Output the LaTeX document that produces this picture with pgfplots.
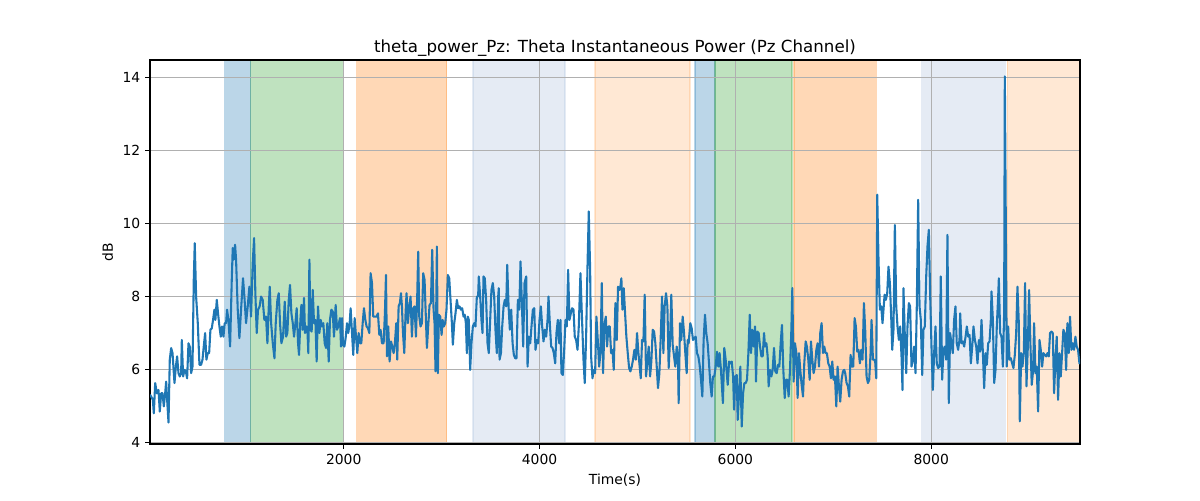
\documentclass[border=0pt]{standalone}
\usepackage{pgfplots}
\pgfplotsset{compat=1.18}
\usepackage{fontspec}
\setmainfont{DejaVu Sans}
\definecolor{tabblue}{HTML}{1F77B4}
\definecolor{taborange}{HTML}{FF7F0E}
\definecolor{tabgreen}{HTML}{2CA02C}
\definecolor{steel}{HTML}{A8BEDC}
\definecolor{gridgray}{HTML}{B0B0B0}
\begin{document}
\begin{tikzpicture}
\begin{axis}[
 set layers,
 at={(0,0)}, anchor=south west,
 scale only axis, width=669.6pt, height=276.48pt,
 xmin=22, xmax=9520, ymin=3.95, ymax=14.47,
 xtick={2000,4000,6000,8000}, ytick={4,6,8,10,12,14},
 grid=major, major grid style={color=gridgray, line width=0.8pt},
 tick align=outside, major tick length=3.5pt,
 tick pos=left,
 /pgf/number format/assume math mode=true,
 /pgf/number format/1000 sep={},
 ticklabel style={font=\fontsize{10}{12}\selectfont},
 xlabel={Time(s)}, ylabel={dB},
 label style={font=\fontsize{10}{12}\selectfont},
 ylabel style={xshift=0pt},
 title={theta\_power\_Pz: Theta Instantaneous Power (Pz Channel)},
 title style={font=\fontsize{12}{14}\selectfont, yshift=-7pt},
 axis line style={line width=0.8pt},
 every tick/.style={black, line width=0.8pt},
]
\addplot[on layer=axis background, draw=tabblue, fill=tabblue, fill opacity=0.3, draw opacity=0.3, line width=1pt] coordinates {(784,3.95)(1049,3.95)(1049,14.47)(784,14.47)} -- cycle;
\addplot[on layer=axis background, draw=tabgreen, fill=tabgreen, fill opacity=0.3, draw opacity=0.3, line width=1pt] coordinates {(1049,3.95)(1999,3.95)(1999,14.47)(1049,14.47)} -- cycle;
\addplot[on layer=axis background, draw=taborange, fill=taborange, fill opacity=0.3, draw opacity=0.3, line width=1pt] coordinates {(2133,3.95)(3053,3.95)(3053,14.47)(2133,14.47)} -- cycle;
\addplot[on layer=axis background, draw=steel, fill=steel, fill opacity=0.3, draw opacity=0.3, line width=1pt] coordinates {(3319,3.95)(4259,3.95)(4259,14.47)(3319,14.47)} -- cycle;
\addplot[on layer=axis background, draw=taborange, fill=taborange, fill opacity=0.18, draw opacity=0.18, line width=1pt] coordinates {(4566,3.95)(5537,3.95)(5537,14.47)(4566,14.47)} -- cycle;
\addplot[on layer=axis background, draw=tabblue, fill=tabblue, fill opacity=0.3, draw opacity=0.3, line width=1pt] coordinates {(5588,3.95)(5792,3.95)(5792,14.47)(5588,14.47)} -- cycle;
\addplot[on layer=axis background, draw=tabgreen, fill=tabgreen, fill opacity=0.3, draw opacity=0.3, line width=1pt] coordinates {(5792,3.95)(6579,3.95)(6579,14.47)(5792,14.47)} -- cycle;
\addplot[on layer=axis background, draw=taborange, fill=taborange, fill opacity=0.3, draw opacity=0.3, line width=1pt] coordinates {(6600,3.95)(7439,3.95)(7439,14.47)(6600,14.47)} -- cycle;
\addplot[on layer=axis background, draw=steel, fill=steel, fill opacity=0.3, draw opacity=0.3, line width=1pt] coordinates {(7901,3.95)(8757,3.95)(8757,14.47)(7901,14.47)} -- cycle;
\addplot[on layer=axis background, draw=taborange, fill=taborange, fill opacity=0.18, draw opacity=0.18, line width=1pt] coordinates {(8777,3.95)(9520,3.95)(9520,14.47)(8777,14.47)} -- cycle;
\addplot[tabblue, line width=1.5pt, line join=round] table {
x y
22 5.30
34 5.25
51 5.16
61 4.79
75 5.62
92 5.34
109 5.43
122 4.84
136 5.34
150 5.34
163 4.98
177 5.34
187 5.66
197 5.16
211 4.54
224 6.26
238 6.58
252 6.44
272 5.62
286 6.07
299 6.35
313 5.89
326 5.80
340 5.89
347 6.80
360 5.80
374 5.98
388 5.94
401 5.75
415 6.71
428 6.62
442 5.89
456 6.07
469 8.45
479 9.45
493 7.99
510 7.26
527 6.12
544 6.12
558 6.26
571 6.62
585 6.99
598 6.26
612 6.44
626 6.44
639 7.08
653 7.12
666 7.35
680 7.63
690 7.35
704 7.90
717 7.53
731 7.17
745 6.89
758 7.17
772 6.89
785 7.26
799 7.26
809 7.63
823 7.35
840 6.62
857 8.45
867 9.32
877 9.00
891 9.41
901 9.00
918 7.63
935 6.85
952 7.63
972 8.49
986 7.99
1003 7.26
1020 7.72
1037 8.26
1054 7.44
1071 8.90
1085 9.59
1098 8.08
1112 6.99
1125 7.63
1142 7.72
1156 7.99
1173 7.90
1190 7.35
1207 7.44
1221 6.71
1235 7.72
1245 8.26
1259 7.26
1276 6.71
1293 6.30
1306 7.26
1323 7.90
1337 8.08
1350 7.26
1364 6.71
1381 6.89
1398 7.85
1412 6.89
1425 6.99
1439 7.90
1452 8.31
1466 7.53
1480 7.26
1493 6.89
1507 7.26
1520 7.67
1534 6.71
1544 6.39
1558 7.35
1568 7.76
1582 7.08
1595 7.95
1605 6.99
1619 7.17
1629 7.12
1639 6.44
1650 9.00
1660 7.08
1673 7.03
1684 8.17
1697 7.26
1711 7.35
1724 6.21
1738 7.72
1752 6.99
1765 7.35
1779 7.17
1792 7.26
1806 6.71
1820 6.58
1833 7.26
1847 6.21
1860 7.35
1874 7.63
1888 7.58
1901 6.89
1918 7.76
1932 7.08
1945 7.17
1962 7.40
1973 6.62
1983 7.40
1993 6.67
2007 6.62
2020 6.85
2034 7.26
2047 6.99
2061 7.26
2071 7.67
2085 6.99
2098 6.39
2112 7.40
2126 6.89
2139 6.44
2153 6.99
2166 6.71
2180 6.71
2194 7.26
2207 7.67
2221 7.35
2234 7.17
2248 7.12
2262 6.99
2275 8.63
2289 8.36
2302 7.44
2316 7.44
2336 7.44
2350 7.53
2364 6.94
2377 7.08
2391 6.71
2408 6.71
2421 7.53
2432 8.58
2442 6.35
2455 7.17
2469 6.21
2483 6.76
2496 6.62
2510 6.44
2523 6.71
2537 7.26
2547 6.26
2561 7.72
2574 7.81
2585 8.08
2595 7.72
2605 7.03
2619 6.44
2632 7.53
2642 8.08
2656 7.26
2670 7.72
2683 7.99
2697 6.89
2710 7.67
2724 7.72
2738 6.89
2751 7.99
2761 9.22
2772 7.44
2785 7.17
2799 7.26
2812 8.63
2826 8.45
2840 7.35
2850 6.58
2863 7.17
2877 7.76
2891 7.81
2904 9.27
2918 7.63
2928 7.26
2938 5.94
2952 9.36
2962 5.89
2972 7.49
2986 7.44
3000 6.94
3010 7.35
3023 7.17
3037 7.26
3050 7.63
3064 8.58
3078 8.49
3091 7.90
3105 7.26
3115 6.67
3129 7.26
3142 7.53
3156 7.90
3169 7.67
3183 7.72
3197 7.63
3210 7.67
3224 7.44
3237 7.49
3248 7.26
3258 6.44
3268 7.44
3278 7.35
3292 5.98
3305 6.71
3319 7.17
3333 7.26
3346 7.17
3360 7.99
3373 7.99
3380 8.54
3394 7.99
3407 7.35
3418 6.99
3428 8.54
3441 8.49
3455 7.90
3469 6.71
3482 6.44
3496 7.35
3509 8.17
3523 8.36
3537 7.99
3550 7.08
3564 6.44
3578 7.99
3584 8.22
3592 6.26
3606 6.44
3619 7.17
3633 7.72
3646 7.90
3660 7.72
3670 8.86
3684 7.72
3697 7.08
3711 7.63
3725 6.71
3738 6.39
3752 6.30
3765 6.30
3779 7.90
3793 7.63
3806 8.95
3820 7.81
3833 6.62
3847 8.36
3864 8.54
3878 6.07
3891 6.89
3905 6.71
3918 7.17
3932 7.63
3946 7.67
3959 6.53
3973 6.80
3986 6.71
4000 7.35
4014 7.72
4027 7.17
4041 6.76
4054 7.08
4068 6.89
4082 7.35
4092 7.99
4105 7.26
4119 6.62
4133 6.58
4146 6.44
4160 6.16
4173 6.99
4187 7.35
4201 6.71
4214 7.35
4224 5.89
4238 5.84
4252 6.53
4265 7.35
4279 7.17
4292 8.72
4306 7.35
4320 7.53
4333 7.67
4347 7.63
4360 6.89
4374 6.80
4388 6.53
4401 7.17
4418 8.63
4432 7.53
4449 6.26
4462 5.62
4476 6.89
4490 8.81
4503 10.32
4517 8.72
4527 6.35
4541 5.75
4554 5.98
4568 5.89
4581 7.44
4595 6.80
4609 6.07
4622 6.44
4636 8.36
4649 5.89
4663 7.21
4677 7.44
4690 6.62
4704 7.17
4717 7.17
4731 6.44
4745 6.53
4758 5.98
4775 7.81
4789 6.80
4802 8.26
4816 8.17
4826 8.26
4836 8.49
4847 7.63
4860 8.22
4874 7.53
4887 6.89
4901 6.44
4915 6.03
4928 5.94
4942 6.07
4955 6.26
4969 6.53
4983 6.26
4996 6.99
5010 6.44
5023 6.07
5034 5.75
5047 6.80
5061 6.76
5074 8.04
5088 5.80
5102 6.21
5115 6.62
5129 5.80
5142 6.21
5156 7.08
5170 7.03
5183 6.71
5197 6.07
5210 5.48
5224 5.89
5238 6.89
5251 7.99
5265 6.44
5278 7.72
5292 8.08
5306 7.72
5319 6.03
5333 6.80
5346 8.04
5360 6.67
5374 6.35
5387 6.07
5401 6.62
5414 6.26
5421 5.07
5435 7.26
5448 6.80
5462 7.44
5476 6.99
5489 6.44
5503 5.89
5513 6.80
5523 6.71
5540 7.26
5554 7.12
5567 6.80
5581 6.85
5595 6.89
5608 6.44
5622 6.35
5635 6.12
5649 5.71
5663 5.25
5676 6.80
5690 7.49
5703 6.99
5717 6.71
5731 6.16
5744 5.62
5758 5.25
5771 5.80
5785 5.80
5799 6.07
5812 6.48
5826 6.07
5839 6.44
5853 5.98
5873 5.07
5887 6.58
5901 6.26
5922 5.57
5936 6.21
5949 6.16
5963 6.21
5977 5.80
5987 4.89
6000 5.80
6014 5.84
6024 4.61
6038 5.34
6051 6.07
6065 4.43
6079 5.34
6092 5.62
6106 5.62
6119 5.71
6133 6.44
6147 7.49
6160 6.44
6174 7.08
6187 6.62
6201 7.17
6211 5.66
6225 7.03
6238 6.99
6252 6.62
6266 6.35
6279 6.35
6293 6.99
6303 6.62
6317 6.71
6330 6.35
6340 5.53
6354 5.98
6368 5.80
6381 5.98
6395 6.58
6408 5.94
6422 5.89
6436 6.12
6449 6.07
6463 6.71
6476 7.21
6490 5.98
6504 5.21
6517 5.71
6531 5.71
6544 5.25
6558 5.98
6572 7.08
6582 8.22
6595 5.66
6609 6.71
6623 6.44
6636 5.21
6650 6.44
6663 5.98
6677 5.57
6691 5.25
6704 6.16
6718 6.76
6731 6.62
6745 6.26
6759 5.71
6772 6.76
6786 6.26
6799 5.89
6813 6.07
6827 6.53
6840 6.71
6854 6.07
6867 6.99
6881 7.26
6895 6.44
6908 6.62
6922 6.44
6935 6.44
6949 6.16
6963 6.07
6976 5.75
6990 6.21
7003 5.71
7017 5.80
7031 4.98
7044 6.07
7058 5.53
7071 5.11
7085 5.71
7099 5.94
7112 5.98
7122 5.89
7136 5.62
7150 5.53
7163 5.25
7177 6.39
7190 6.07
7204 6.07
7218 7.40
7231 7.17
7245 6.48
7258 6.53
7272 6.16
7286 6.53
7299 6.26
7313 7.81
7326 7.08
7340 5.80
7354 5.62
7367 5.71
7381 6.44
7391 7.35
7405 6.26
7418 6.26
7428 6.21
7439 5.75
7449 10.78
7462 9.00
7476 7.63
7490 7.72
7503 7.26
7513 7.63
7524 8.04
7537 7.90
7551 8.08
7564 8.81
7578 8.36
7592 7.40
7602 6.53
7615 7.08
7629 9.95
7643 7.72
7656 7.17
7670 6.80
7683 7.17
7697 6.35
7707 5.43
7717 8.22
7731 6.89
7745 5.89
7758 7.17
7772 7.81
7785 7.72
7799 6.07
7813 6.26
7826 6.62
7840 5.89
7853 7.72
7867 10.64
7881 7.72
7894 7.35
7908 5.84
7921 7.08
7935 7.17
7949 8.54
7962 9.36
7976 9.82
7989 8.08
8003 6.62
8017 5.43
8030 6.44
8044 7.17
8057 6.16
8071 6.03
8085 6.07
8098 8.54
8112 5.71
8125 6.53
8139 6.62
8153 6.26
8166 9.68
8180 5.07
8193 6.99
8207 6.71
8221 6.44
8234 7.35
8248 7.72
8261 6.71
8275 6.53
8289 6.80
8296 7.53
8310 6.71
8324 6.76
8337 6.62
8351 6.89
8364 7.17
8378 6.89
8392 6.94
8405 6.16
8419 6.62
8432 7.17
8446 6.80
8460 6.62
8473 6.16
8487 6.80
8500 6.48
8514 7.35
8528 6.44
8541 5.48
8555 6.44
8568 6.12
8582 6.71
8596 6.76
8609 7.35
8616 8.13
8630 7.35
8643 5.62
8657 5.98
8670 7.17
8684 7.99
8691 8.49
8704 6.99
8718 6.89
8732 6.07
8745 7.53
8752 14.02
8772 6.07
8786 7.17
8800 6.26
8813 6.30
8827 6.16
8840 6.03
8854 6.39
8868 6.99
8881 8.26
8895 7.26
8905 4.57
8919 6.44
8932 6.07
8946 6.44
8959 8.36
8973 5.53
8987 6.62
9000 8.17
9014 6.62
9027 5.57
9041 5.98
9051 7.26
9065 5.89
9078 6.07
9092 4.84
9106 6.80
9119 6.53
9133 6.07
9146 6.44
9160 6.39
9174 6.35
9187 6.44
9201 6.35
9214 6.99
9228 7.03
9242 6.99
9255 5.34
9269 6.26
9282 6.89
9296 5.16
9310 6.44
9323 5.80
9337 6.44
9350 7.08
9364 6.99
9378 5.98
9391 7.26
9405 6.44
9418 7.44
9432 6.53
9446 6.71
9459 6.53
9473 6.89
9486 6.62
9500 6.53
9514 6.16
9520 6.20
};
\end{axis}
\pgfresetboundingbox
\useasboundingbox (-108pt,-40.32pt) rectangle (756pt,319.68pt);
\end{tikzpicture}
\end{document}
